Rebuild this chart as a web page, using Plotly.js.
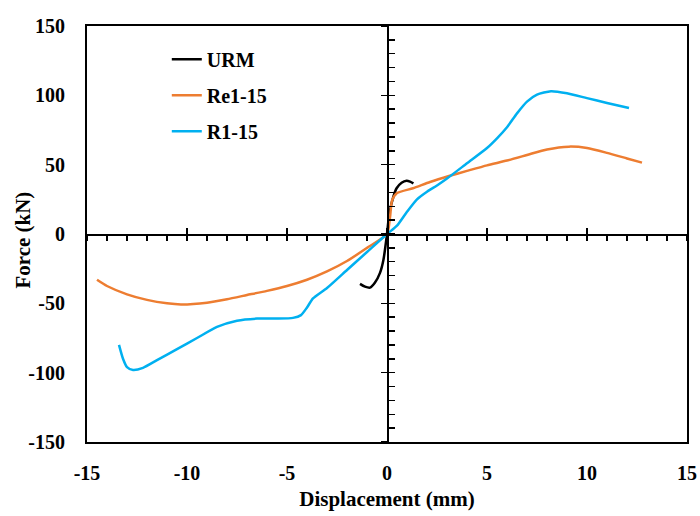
<!DOCTYPE html>
<html>
<head>
<meta charset="utf-8">
<script src="https://cdn.plot.ly/plotly-3.0.1.min.js"></script>
<style>html,body{margin:0;padding:0;background:#fff;}#chart{width:700px;height:516px;}</style>
</head>
<body>
<div id="chart"></div>
<script>
// ---- Data (displacement in mm, force in kN) ----
const urmX = [-1.35, -1.1, -0.85, -0.6, -0.35, -0.18, 0, 0.12, 0.32, 0.48, 0.73, 0.98, 1.15, 1.32];
const urmF = [-36, -38, -38.7, -35, -28, -18.7, 0, 15, 27, 33, 37, 38.4, 37.8, 36.5];

const re115X = [-14.5, -14, -13, -12, -11, -10.3, -9, -8, -7, -6, -5, -4, -3, -2, -1, 0, 0.15, 0.25, 0.5, 1.3, 2.15, 3.1, 4, 5, 6, 7, 8, 9.1, 10, 11, 12, 12.75];
const re115F = [-33, -37.5, -43.5, -47.5, -50, -50.8, -49.5, -47, -44, -41, -37.5, -33, -27, -19.5, -10, 0, 12, 24, 29.5, 33, 37.5, 41.8, 45.5, 49.5, 53, 57, 61, 63, 62, 58.5, 54.5, 51.5];

const r115X = [-13.4, -13.2, -13.0, -12.7, -12.2, -11.5, -10.5, -9.5, -8.5, -7.5, -6.5, -5.5, -4.7, -4.3, -4.0, -3.7, -3.0, -2, -1, 0, 0.5, 1, 1.5, 2, 2.5, 3, 4, 5, 5.5, 6, 6.5, 7, 7.5, 8.2, 9, 10, 11, 12.1];
const r115F = [-80, -90, -96, -98, -96.5, -91, -83, -75, -67, -62.5, -61, -61, -60.5, -58.5, -53, -46.5, -39, -26, -13, 0, 6, 16, 25, 30.5, 35, 40, 51, 62, 69, 77, 87, 95.5, 100.5, 103, 101.5, 98, 94.5, 90.8];

const seriesNames = ["URM", "Re1-15", "R1-15"];
const xTicks = [-15, -10, -5, 0, 5, 10, 15];
const xTickText = ["-15", "-10", "-5", "0", "5", "10", "15"];
const yTicks = [-150, -100, -50, 0, 50, 100, 150];
const yTickText = ["-150", "-100", "-50", "0", "50", "100", "150"];
const xRange = [-15, 15];
const yRange = [-150, 150];

const FONT = "Liberation Serif, Times New Roman, serif";

const traces = [
  {x: urmX, y: urmF, name: seriesNames[0], legendgroup: "a", mode: "lines",
   line: {color: "#000000", width: 2.5, shape: "spline", smoothing: 0.8}},
  {x: re115X, y: re115F, name: seriesNames[1], legendgroup: "b", mode: "lines",
   line: {color: "#ED7D31", width: 2.5, shape: "spline", smoothing: 0.6}},
  {x: r115X, y: r115F, name: seriesNames[2], legendgroup: "c", mode: "lines",
   line: {color: "#00B0F0", width: 2.5, shape: "spline", smoothing: 0.6}},
  // carriers for the zero-crossing tick axes
  {x: [null], y: [null], xaxis: "x2", yaxis: "y2", showlegend: false, hoverinfo: "skip", mode: "lines"},
  {x: [null], y: [null], xaxis: "x3", yaxis: "y3", showlegend: false, hoverinfo: "skip", mode: "lines"}
];

const tickFont = {family: FONT, size: 20, color: "#000", weight: "bold"};

const layout = {
  width: 700, height: 516,
  margin: {l: 87, r: 13, t: 26, b: 74},
  paper_bgcolor: "#fff", plot_bgcolor: "#fff",
  font: {family: FONT, color: "#000"},
  showlegend: true,
  legend: {x: 0.133, y: 0.967, xanchor: "left", yanchor: "top",
           font: {family: FONT, size: 20, color: "#000", weight: "bold"},
           bgcolor: "rgba(0,0,0,0)", tracegroupgap: 7},
  xaxis: {range: xRange, tickvals: xTicks, ticktext: xTickText, ticks: "", showgrid: false, zeroline: false,
          showline: true, mirror: true, linecolor: "#000", linewidth: 2,
          tickfont: tickFont, ticklabelstandoff: 12,
          title: {text: "Displacement (mm)", font: {family: FONT, size: 21, color: "#000", weight: "bold"}, standoff: 8}},
  yaxis: {range: yRange, tickvals: yTicks, ticktext: yTickText, ticks: "", showgrid: false, zeroline: false,
          showline: true, mirror: true, linecolor: "#000", linewidth: 2,
          tickfont: tickFont, ticklabelstandoff: 16},
  annotations: [{text: "Force (kN)", textangle: -90, xref: "paper", yref: "paper",
                 x: -0.107, y: 0.486, xanchor: "center", yanchor: "middle", showarrow: false,
                 font: {family: FONT, size: 21, color: "#000", weight: "bold"}}],
  // zero-line axes: major ticks crossing, minor ticks one side
  xaxis2: {overlaying: "x", anchor: "free", position: 0.5, range: xRange, dtick: 5, tick0: 0,
           ticks: "outside", ticklen: 5, tickwidth: 1.5, tickcolor: "#000",
           minor: {ticks: "outside", dtick: 1, ticklen: 5, tickwidth: 1.5, tickcolor: "#000"},
           showticklabels: false, showgrid: false, zeroline: false,
           showline: true, linecolor: "#000", linewidth: 1.5},
  yaxis2: {overlaying: "y", anchor: "free", position: 0.5, range: yRange, dtick: 50, tick0: 0,
           ticks: "inside", ticklen: 6, tickwidth: 1.5, tickcolor: "#000",
           minor: {ticks: "inside", dtick: 10, ticklen: 6, tickwidth: 1.5, tickcolor: "#000"},
           showticklabels: false, showgrid: false, zeroline: false,
           showline: true, linecolor: "#000", linewidth: 1.5},
  xaxis3: {overlaying: "x", anchor: "free", position: 0.5, range: xRange, dtick: 5, tick0: 0,
           ticks: "inside", ticklen: 6, tickwidth: 1.5, tickcolor: "#000",
           showticklabels: false, showgrid: false, zeroline: false, showline: false},
  yaxis3: {overlaying: "y", anchor: "free", position: 0.5, range: yRange, dtick: 50, tick0: 0,
           ticks: "outside", ticklen: 6, tickwidth: 1.5, tickcolor: "#000",
           showticklabels: false, showgrid: false, zeroline: false, showline: false}
};

Plotly.newPlot("chart", traces, layout, {staticPlot: true, displayModeBar: false});
</script>
</body>
</html>
